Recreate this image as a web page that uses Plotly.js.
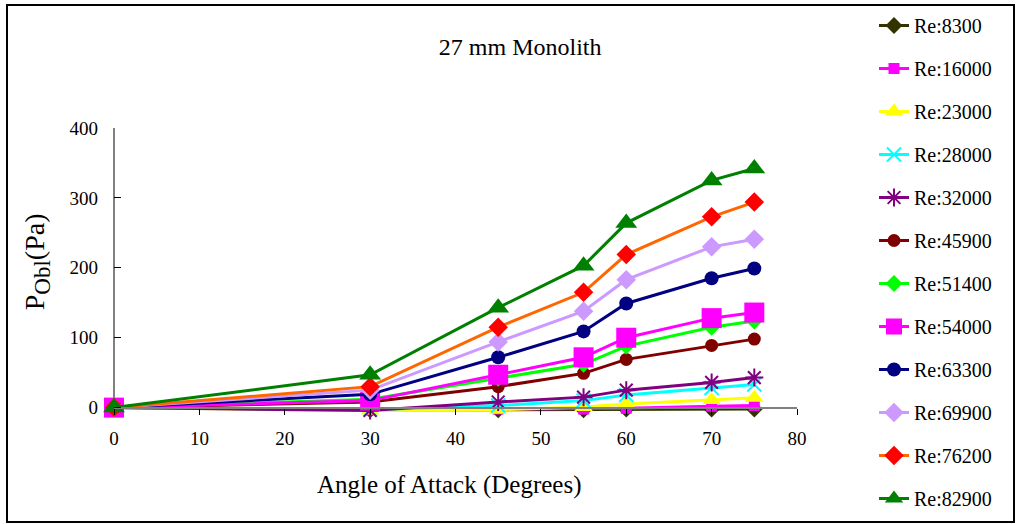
<!DOCTYPE html>
<html>
<head>
<meta charset="utf-8">
<script src="https://cdn.plot.ly/plotly-3.0.1.min.js"></script>
<style>
  html, body { margin: 0; padding: 0; background: #fff; }
  #wrap { position: relative; width: 1016px; height: 524px; }
  #chart { width: 1016px; height: 524px; }
  #frame { position: absolute; left: 6px; top: 4px; width: 1005px; height: 515px; border: 2px solid #000; pointer-events: none; }
</style>
</head>
<body>
<div id="wrap">
  <div id="chart"></div>
  <div id="frame"></div>
</div>
<script>
const angles = [0, 30, 45, 55, 60, 70, 75];
const seriesNames = ["Re:8300", "Re:16000", "Re:23000", "Re:28000", "Re:32000", "Re:45900",
                     "Re:51400", "Re:54000", "Re:63300", "Re:69900", "Re:76200", "Re:82900"];
const re8300  = [0, -3, -3, -3, -2, -2, -2];
const re16000 = [0, -3, -2, -2, -1, 2, 3];
const re23000 = [0, -4, -3, 1, 5, 11, 14];
const re28000 = [0, -3, 3, 10, 18, 28, 33];
const re32000 = [0, -4, 8, 15, 25, 36, 43];
const re45900 = [0, 8, 30, 49, 69, 89, 98];
const re51400 = [0, 12, 42, 62, 88, 115, 124];
const re54000 = [0, 10, 47, 72, 100, 128, 136];
const re63300 = [0, 19, 72, 109, 149, 185, 199];
const re69900 = [0, 25, 94, 138, 183, 230, 241];
const re76200 = [0, 30, 115, 165, 219, 273, 294];
const re82900 = [0, 47, 143, 203, 264, 325, 342];
const xTicks = [0, 10, 20, 30, 40, 50, 60, 70, 80];
const yTicks = [0, 100, 200, 300, 400];

const values = [re8300, re16000, re23000, re28000, re32000, re45900,
                re51400, re54000, re63300, re69900, re76200, re82900];
const styles = [
  {line: "#333300", marker: "#333300", symbol: "diamond", size: 13},
  {line: "#FF00FF", marker: "#FF00FF", symbol: "square", size: 11},
  {line: "#FFFF00", marker: "#FFFF00", symbol: "triangle-up", size: 16},
  {line: "#00FFFF", marker: "#00FFFF", symbol: "x-thin", size: 14},
  {line: "#800080", marker: "#800080", symbol: "asterisk", size: 15},
  {line: "#800000", marker: "#800000", symbol: "circle", size: 13},
  {line: "#00FF00", marker: "#00FF00", symbol: "diamond", size: 13},
  {line: "#FF00FF", marker: "#FF00FF", symbol: "square", size: 20},
  {line: "#000080", marker: "#000080", symbol: "circle", size: 14},
  {line: "#CC99FF", marker: "#CC99FF", symbol: "diamond", size: 15},
  {line: "#FF6600", marker: "#FF0000", symbol: "diamond", size: 15},
  {line: "#008000", marker: "#008000", symbol: "triangle-up", size: 19}
];

const traces = seriesNames.map((name, i) => {
  const s = styles[i];
  const m = {color: s.marker, symbol: s.symbol, size: s.size};
  if (s.symbol === "x-thin" || s.symbol === "asterisk") {
    m.line = {color: s.marker, width: 2};
  }
  return {
    type: "scatter", mode: "lines+markers", name: name, legendgroup: name,
    x: angles, y: values[i],
    line: {color: s.line, width: 3},
    marker: m,
    cliponaxis: false
  };
});

const serif = "Liberation Serif, Times New Roman, serif";
const yMin = -12, yMax = 400;

const layout = {
  width: 1016, height: 524,
  paper_bgcolor: "#fff", plot_bgcolor: "#fff",
  font: {family: serif, color: "#000", size: 19},
  margin: {l: 114, r: 219, t: 128, b: 108, pad: 0},
  showlegend: true,
  title: {text: "27 mm Monolith", font: {family: serif, size: 24, color: "#000"},
          xref: "container", x: 0.512, xanchor: "center",
          yref: "container", y: 1 - 47 / 524, yanchor: "middle"},
  xaxis: {
    range: [0, 80], tickvals: xTicks, ticktext: xTicks.map(String),
    showgrid: false, zeroline: false,
    showline: true, linecolor: "#808080", linewidth: 2,
    ticks: "outside", ticklen: 6, tickwidth: 1, tickcolor: "#000",
    anchor: "free", position: (0 - yMin) / (yMax - yMin),
    tickfont: {family: serif, size: 19},
    ticklabelstandoff: 8
  },
  yaxis: {
    range: [yMin, yMax], tickvals: yTicks, ticktext: yTicks.map(String),
    showgrid: false, zeroline: false, showline: false,
    ticks: "inside", ticklen: 7, tickwidth: 1, tickcolor: "#000",
    tickfont: {family: serif, size: 19},
    ticklabelstandoff: 15
  },
  annotations: [
    {text: "Angle of Attack (Degrees)", font: {family: serif, size: 25, color: "#000"},
     xref: "paper", x: (449 - 114) / 683, xanchor: "center",
     yref: "paper", y: (416.4 - 485) / 288.4, yanchor: "middle", showarrow: false},
    {text: "P<sub><span style=\"font-size:23px\">Obl</span></sub>(Pa)",
     font: {family: serif, size: 28, color: "#000"},
     textangle: -90,
     xref: "paper", x: (37 - 114) / 683, xanchor: "center",
     yref: "y", y: 208, yanchor: "middle", showarrow: false}
  ],
  shapes: [{
    type: "line", xref: "paper", yref: "y", x0: 0, x1: 0, y0: 0, y1: yMax,
    line: {color: "#808080", width: 2}, layer: "below"
  }],
  legend: {
    xref: "container", yref: "container",
    x: 874 / 1016, y: 1 - 6 / 524, xanchor: "left", yanchor: "top",
    maxheight: 600,
    font: {family: serif, size: 20, color: "#000"},
    tracegroupgap: 14, bgcolor: "rgba(0,0,0,0)", borderwidth: 0
  }
};

Plotly.newPlot("chart", traces, layout, {displayModeBar: false, staticPlot: true});
</script>
</body>
</html>
